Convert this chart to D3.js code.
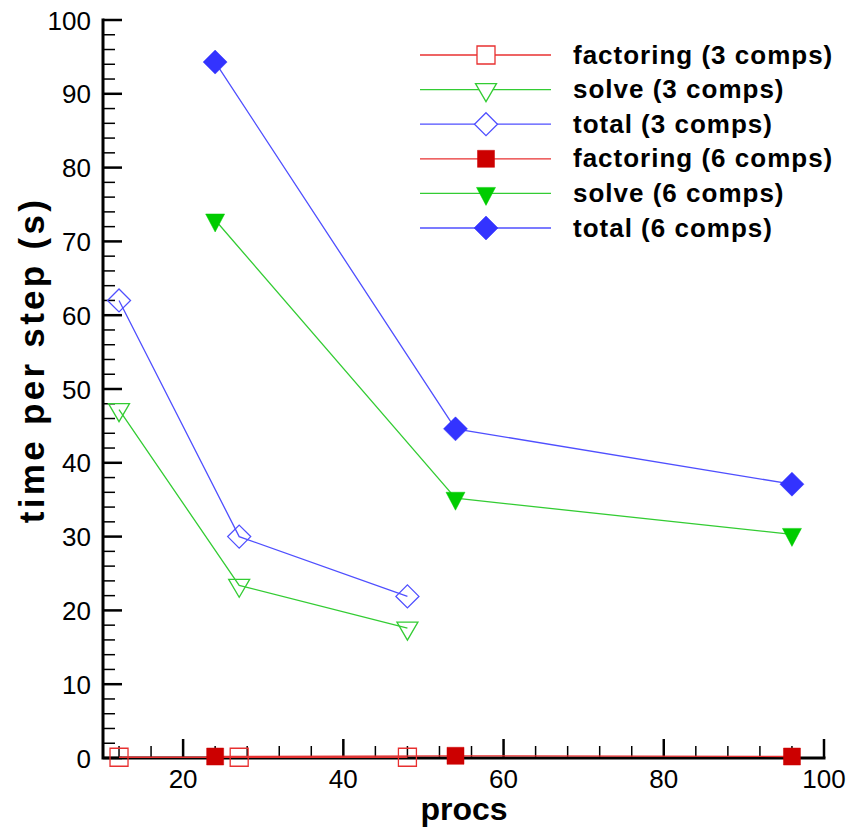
<!DOCTYPE html>
<html>
<head>
<meta charset="utf-8">
<script src="https://cdn.jsdelivr.net/npm/d3@7"></script>
<style>
  html, body { margin: 0; padding: 0; background: #fff; }
  svg { display: block; font-family: "Liberation Sans", Arial, Helvetica, sans-serif; }
</style>
</head>
<body>
<svg id="chart" width="859" height="827"></svg>
<script>
// ---- data ----
const procs3 = [12, 27, 48];
const procs6 = [24, 54, 96];
const factoring3 = [0.1, 0.1, 0.1];
const solve3 = [47.2, 23.4, 17.6];
const total3 = [62.0, 30.0, 21.9];
const factoring6 = [0.2, 0.3, 0.2];
const solve6 = [72.9, 35.2, 30.3];
const total6 = [94.3, 44.6, 37.1];
const xTicks = [20, 40, 60, 80, 100];
const yTicks = [0, 10, 20, 30, 40, 50, 60, 70, 80, 90, 100];
const seriesNames = ["factoring (3 comps)", "solve (3 comps)", "total (3 comps)",
                     "factoring (6 comps)", "solve (6 comps)", "total (6 comps)"];
const xTitle = "procs";
const yTitle = "time per step (s)";

const series = [
  { name: seriesNames[0], x: procs3, y: factoring3, shape: "square", filled: false, color: "#e83030", fill: "#cc0000" },
  { name: seriesNames[1], x: procs3, y: solve3, shape: "triangle", filled: false, color: "#33cc33", fill: "#00cc00" },
  { name: seriesNames[2], x: procs3, y: total3, shape: "diamond", filled: false, color: "#4f4fff", fill: "#3333ff" },
  { name: seriesNames[3], x: procs6, y: factoring6, shape: "square", filled: true, color: "#e83030", fill: "#cc0000" },
  { name: seriesNames[4], x: procs6, y: solve6, shape: "triangle", filled: true, color: "#33cc33", fill: "#00cc00" },
  { name: seriesNames[5], x: procs6, y: total6, shape: "diamond", filled: true, color: "#4f4fff", fill: "#3333ff" }
];

const svg = d3.select("#chart");
const x = d3.scaleLinear().domain([10, 100]).range([103, 824]);
const y = d3.scaleLinear().domain([0, 100]).range([758, 20]);

function markerPath(shape, filled) {
  if (shape === "square") {
    const h = filled ? 8.5 : 9;
    return `M${-h},${-h}H${h}V${h}H${-h}Z`;
  }
  if (shape === "diamond") {
    const h = filled ? 12 : 11.5;
    return `M0,${-h}L${h},0L0,${h}L${-h},0Z`;
  }
  // downward triangle centred at centroid
  const w = filled ? 9.5 : 10.5, hh = filled ? 18 : 18;
  return `M${-w},${-hh/3}L${w},${-hh/3}L0,${2*hh/3}Z`;
}

// ---- axes ----
const axisG = svg.append("g");
// minor ticks
const xMinor = d3.range(12, 100, 4).filter(v => v % 20 !== 0);
const yMinor = d3.range(2, 100, 2).filter(v => v % 10 !== 0);
axisG.selectAll(".xminor").data(xMinor).join("line")
  .attr("x1", d => x(d)).attr("x2", d => x(d))
  .attr("y1", y(0)).attr("y2", y(0) - 12)
  .attr("stroke", "#000").attr("stroke-width", 1.5);
axisG.selectAll(".yminor").data(yMinor).join("line")
  .attr("y1", d => y(d)).attr("y2", d => y(d))
  .attr("x1", x(10)).attr("x2", x(10) + 12)
  .attr("stroke", "#000").attr("stroke-width", 1.5);
// major ticks
axisG.selectAll(".xmajor").data(xTicks).join("line")
  .attr("x1", d => x(d)).attr("x2", d => x(d))
  .attr("y1", y(0)).attr("y2", y(0) - 19)
  .attr("stroke", "#000").attr("stroke-width", 2.5);
axisG.selectAll(".ymajor").data(yTicks).join("line")
  .attr("y1", d => y(d)).attr("y2", d => y(d))
  .attr("x1", x(10)).attr("x2", x(10) + 19)
  .attr("stroke", "#000").attr("stroke-width", 2.5);
// axis lines
axisG.append("path")
  .attr("d", `M${x(10)},${y(100)}V${y(0)}H${x(100)}`)
  .attr("fill", "none").attr("stroke", "#000").attr("stroke-width", 3)
  .attr("stroke-linecap", "square");
// tick labels
axisG.selectAll(".xlab").data(xTicks).join("text")
  .attr("x", d => x(d)).attr("y", 788)
  .attr("text-anchor", "middle").attr("font-size", 26).attr("fill", "#000")
  .text(d => d);
axisG.selectAll(".ylab").data(yTicks).join("text")
  .attr("x", 91).attr("y", d => y(d) + 9.5)
  .attr("text-anchor", "end").attr("font-size", 26).attr("fill", "#000")
  .text(d => d);
// titles
svg.append("text").attr("x", 464).attr("y", 820)
  .attr("text-anchor", "middle").attr("font-size", 32).attr("font-weight", "bold")
  .text(xTitle);
svg.append("text").attr("transform", "translate(44,360) rotate(-90)")
  .attr("text-anchor", "middle").attr("font-size", 35).attr("font-weight", "bold")
  .attr("letter-spacing", 3.3)
  .text(yTitle);

// ---- data ----
const line = d3.line();
const dataG = svg.append("g");
series.forEach(s => {
  const pts = s.x.map((v, i) => [x(v), y(s.y[i])]);
  dataG.append("path").attr("d", line(pts))
    .attr("fill", "none").attr("stroke", s.color).attr("stroke-width", 1.3);
  dataG.selectAll(null).data(pts).join("path")
    .attr("transform", d => `translate(${d[0]},${d[1]})`)
    .attr("d", markerPath(s.shape, s.filled))
    .attr("fill", s.filled ? s.fill : "none")
    .attr("stroke", s.filled ? s.fill : s.color)
    .attr("stroke-width", s.filled ? 0.5 : 1.3);
});

// ---- legend ----
const legG = svg.append("g");
series.forEach((s, i) => {
  const cy = 55 + i * 34.6;
  legG.append("line").attr("x1", 420).attr("x2", 551).attr("y1", cy).attr("y2", cy)
    .attr("stroke", s.color).attr("stroke-width", 1.3);
  legG.append("path").attr("transform", `translate(486,${cy})`)
    .attr("d", markerPath(s.shape, s.filled))
    .attr("fill", s.filled ? s.fill : "#fff")
    .attr("stroke", s.filled ? s.fill : s.color)
    .attr("stroke-width", s.filled ? 0.5 : 1.3);
  legG.append("text").attr("x", 573).attr("y", cy + 8.5)
    .attr("font-size", 26).attr("font-weight", "bold").attr("letter-spacing", 1)
    .text(s.name);
});
</script>
</body>
</html>
